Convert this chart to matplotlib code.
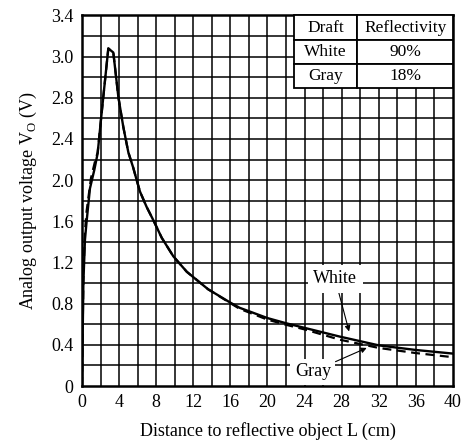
import numpy as np
import matplotlib.pyplot as plt

plt.rcParams['font.family'] = ['Liberation Serif', 'DejaVu Serif']
plt.rcParams['mathtext.fontset'] = 'custom'
plt.rcParams['mathtext.rm'] = 'Liberation Serif'

# White (solid) curve
white_x = [0.0, 0.15, 0.32, 0.5, 0.86, 1.33, 1.69, 2.05, 2.3, 2.84, 3.38, 3.92, 4.45,
           5.0, 5.53, 5.9, 6.25, 6.97, 7.7, 8.6, 9.85, 11.3, 13.6, 16.0, 17.0, 20.0,
           22.0, 24.0, 27.8, 32.0, 36.0, 40.0]
white_v = [0.0, 1.0, 1.42, 1.6, 1.92, 2.1, 2.26, 2.59, 2.81, 3.28, 3.24, 2.81, 2.52,
           2.27, 2.12, 2.0, 1.89, 1.74, 1.61, 1.44, 1.26, 1.11, 0.94, 0.81, 0.76, 0.66,
           0.61, 0.565, 0.48, 0.395, 0.35, 0.315]

# Gray (dashed) curve: rises a little earlier, ends a little lower
gray_x = [0.0, 0.15, 0.32, 0.5, 0.97, 1.4, 1.69, 2.05, 2.3, 2.84, 3.38, 3.92, 4.45,
          5.0, 5.53, 5.9, 6.25, 6.97, 7.7, 8.6, 9.85, 11.3, 13.6, 16.0, 17.0, 20.0,
          22.0, 24.0, 27.8, 32.0, 36.0, 40.0]
gray_v = [0.0, 1.05, 1.5, 1.7, 2.02, 2.18, 2.27, 2.59, 2.81, 3.28, 3.24, 2.81, 2.52,
          2.27, 2.12, 2.0, 1.89, 1.74, 1.61, 1.44, 1.26, 1.11, 0.94, 0.805, 0.75, 0.645,
          0.595, 0.55, 0.45, 0.37, 0.32, 0.28]

x_ticks = [0, 4, 8, 12, 16, 20, 24, 28, 32, 36, 40]
y_ticks = [0, 0.4, 0.8, 1.2, 1.6, 2.0, 2.4, 2.8, 3.2, 3.6]
y_ticklabels = ['0', '0.4', '0.8', '1.2', '1.6', '2.0', '2.4', '2.8', '3.0', '3.4']

table_rows = [['Draft', 'Reflectivity'], ['White', '90%'], ['Gray', '18%']]

fig = plt.figure(figsize=(4.65, 4.4), dpi=100)
ax = fig.add_axes([0.1763, 0.1227, 0.7978, 0.8421])

# grid every 2 cm / 0.2 V
for gx in np.arange(2, 40, 2):
    ax.axvline(gx, color='black', lw=1.1, zorder=1)
for gy in np.arange(0.2, 3.6, 0.2):
    ax.axhline(gy, color='black', lw=1.1, zorder=1)

ax.plot(gray_x, gray_v, color='black', lw=1.6, ls=(0, (4, 2.5)), zorder=3)
ax.plot(white_x, white_v, color='black', lw=1.7, zorder=4)

ax.set_xlim(0, 40)
ax.set_ylim(0, 3.6)
ax.set_xticks(x_ticks)
ax.set_yticks(y_ticks)
ax.set_yticklabels(y_ticklabels)
ax.tick_params(length=0, labelsize=13, pad=6)
for s in ax.spines.values():
    s.set_linewidth(1.8)

ax.set_xlabel('Distance to reflective object L (cm)', fontsize=13, labelpad=8)
ax.set_ylabel(r'Analog output voltage V$_\mathregular{O}$ (V)', fontsize=13, labelpad=9)

# labels with arrows
ax.annotate('White', xy=(28.8, 0.53), xytext=(27.3, 1.04), fontsize=13,
            ha='center', va='center', zorder=6,
            bbox=dict(boxstyle='square,pad=0.3', fc='white', ec='none'),
            arrowprops=dict(arrowstyle='-|>', color='black', lw=0.8, mutation_scale=8,
                            shrinkA=0, shrinkB=0))
ax.annotate('Gray', xy=(30.7, 0.37), xytext=(24.9, 0.14), fontsize=13,
            ha='center', va='center', zorder=6,
            bbox=dict(boxstyle='square,pad=0.25', fc='white', ec='none'),
            arrowprops=dict(arrowstyle='-|>', color='black', lw=0.8, mutation_scale=8,
                            shrinkA=0, shrinkB=0))

tbl = ax.table(cellText=table_rows, cellLoc='center',
               colWidths=[0.40, 0.60], bbox=[0.571, 0.803, 0.429, 0.197], zorder=7)
tbl.auto_set_font_size(False)
tbl.set_fontsize(12.5)
for cell in tbl.get_celld().values():
    cell.set_linewidth(1.3)
    cell.set_facecolor('white')

fig.savefig('out.png', dpi=100)
